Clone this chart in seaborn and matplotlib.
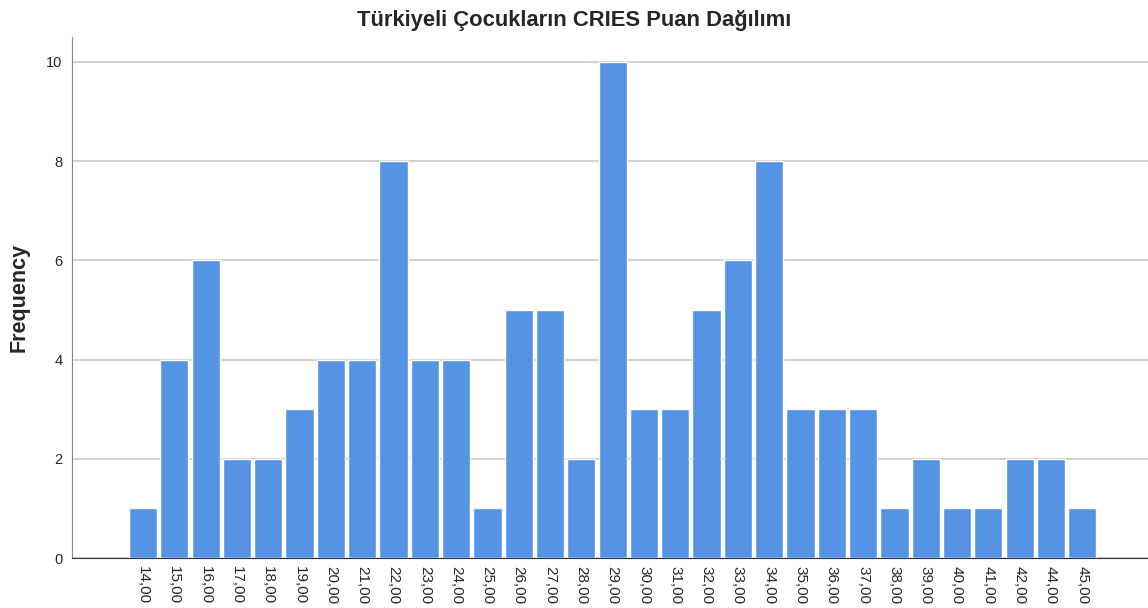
import pandas as pd
import numpy as np
import matplotlib
matplotlib.use('Agg')
import matplotlib.pyplot as plt
import seaborn as sns

# Data
scores = ['14,00', '15,00', '16,00', '17,00', '18,00', '19,00', '20,00', '21,00',
          '22,00', '23,00', '24,00', '25,00', '26,00', '27,00', '28,00', '29,00',
          '30,00', '31,00', '32,00', '33,00', '34,00', '35,00', '36,00', '37,00',
          '38,00', '39,00', '40,00', '41,00', '42,00', '44,00', '45,00']
freq = [1, 4, 6, 2, 2, 3, 4, 4, 8, 4, 4, 1, 5, 5, 2, 10,
        3, 3, 5, 6, 8, 3, 3, 3, 1, 2, 1, 1, 2, 2, 1]

df = pd.DataFrame({'score': scores, 'freq': freq})

sns.set_style('white')
plt.rcParams['font.family'] = ['Liberation Sans', 'DejaVu Sans']

fig = plt.figure(figsize=(11.48, 6.08), dpi=100)
ax = fig.add_axes([0.0627, 0.0822, 0.9373, 0.857])

sns.barplot(data=df, x='score', y='freq', order=scores, color='#5593e5',
            saturation=1, width=0.9, ax=ax, zorder=3)

ax.set_ylim(0, 10.5)
ax.set_xlim(-2.27, 32.1)
ax.set_yticks([0, 2, 4, 6, 8, 10])
ax.yaxis.grid(True, color='#c8c8c8', linewidth=1.2, zorder=0)
ax.set_axisbelow(True)

for s in ['top', 'right']:
    ax.spines[s].set_visible(False)
ax.spines['left'].set_color('#888888')
ax.spines['bottom'].set_color('#333333')

ax.tick_params(axis='x', labelrotation=270, labelsize=11, length=0, pad=6)
ax.tick_params(axis='y', labelsize=10.5, length=4, color='#888888', pad=3)
ax.set_xlabel('')
ax.set_ylabel('Frequency', fontsize=15.5, fontweight='bold', labelpad=12)
fig.text(0.5, 0.966, 'Türkiyeli Çocukların CRIES Puan Dağılımı', ha='center', va='center',
         fontsize=15.8, fontweight='bold')

plt.savefig('out.png', dpi=100)
